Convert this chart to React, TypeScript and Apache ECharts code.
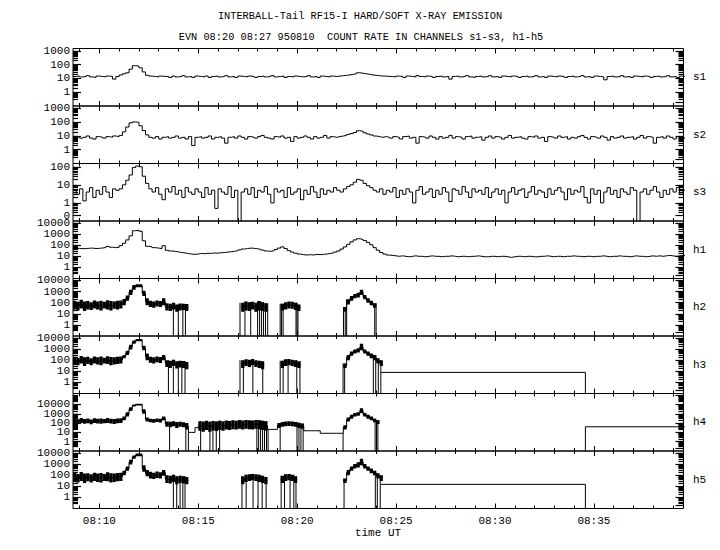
import React, { useEffect, useRef } from "react";
import * as echarts from "echarts";

// time axis in minutes after 08:00, 10-second bins starting 08:08:40
const T0 = 8 + 40 / 60;
const DT = 1 / 6;
const X_MAX = 39.53;

const majorMinutes = [10, 15, 20, 25, 30, 35];
const minorMinutes = [9, 11, 12, 13, 14, 16, 17, 18, 19, 21, 22, 23, 24, 26, 27, 28, 29, 31, 32, 33, 34, 36, 37, 38, 39];

const channelNames = ["s1", "s2", "s3", "h1", "h2", "h3", "h4", "h5"];
const channelTopDecade = [3, 3, 2, 4, 4, 4, 5, 4];

const titleLine1 = "INTERBALL-Tail RF15-I HARD/SOFT X-RAY EMISSION";
const titleLine2 = "EVN 08:20 08:27 950810  COUNT RATE IN CHANNELS s1-s3, h1-h5";
const xName = "time UT";

// count rates, one value per 10 s bin
const s1 = [
  14, 15, 13, 14, 16, 13, 12, 15, 14, 13, 15, 14, 9, 14,
  18, 22, 26, 48, 85, 80, 60, 30, 17,
  15, 14, 13, 15, 14, 14, 12, 15, 13, 14, 16, 13, 14, 12, 15,
  14, 13, 15, 12, 14, 15, 13, 14, 16, 13, 14, 12, 15, 14, 13, 15, 14, 12, 14, 15, 13, 14, 16, 13, 14, 15, 12, 14, 13, 15, 14, 13, 14, 16, 13, 14, 12, 15, 14, 13, 15, 14,
  15, 16, 17, 18, 20, 22, 26, 24, 22, 20, 18, 17, 16, 15, 15, 14,
  14, 13, 15, 14, 12, 15, 14, 13, 16, 14,
  13, 15, 14, 12, 14, 15, 13, 14, 9, 14,
  15, 13, 14, 16, 13, 12, 14, 15, 13, 14,
  16, 13, 14, 12, 15, 14, 13, 15, 14, 12,
  14, 15, 13, 14, 16, 13, 14, 12, 15, 14,
  13, 15, 14, 12, 14, 15, 13, 14, 16, 13,
  14, 12, 15, 14, 13, 8, 14, 15, 13, 14,
  16, 13, 14, 12, 15, 14, 13, 15, 14, 12,
  14, 15, 13, 14, 16, 13, 14, 12, 15, 14,
];

const s2 = [
  8, 9, 7, 8, 10, 7, 6, 9, 8, 7, 9, 8, 10, 9,
  11, 20, 45, 90, 105, 100, 55, 25, 12,
  8, 7, 9, 6, 8, 9, 7, 8, 10, 7, 8, 6, 9, 2, 8,
  9, 7, 8, 10, 6, 8, 9, 7, 3, 8, 9, 7, 10, 8, 6, 9, 8, 7, 9, 11, 8, 7, 6, 9, 8, 10, 7, 8, 4, 9, 7, 8, 10, 8, 6, 9, 7, 8, 11, 7, 9, 8,
  9, 10, 11, 13, 15, 18, 24, 22, 17, 14, 12, 10, 9, 8, 9, 8,
  7, 9, 8, 6, 9, 10, 7, 8, 3, 9,
  8, 7, 10, 8, 6, 9, 7, 8, 11, 7,
  9, 8, 6, 9, 10, 7, 8, 9, 5, 8,
  10, 7, 9, 8, 6, 8, 11, 7, 8, 9,
  7, 6, 9, 8, 10, 7, 8, 4, 9, 8,
  7, 10, 8, 9, 6, 8, 7, 9, 11, 8,
  6, 9, 8, 7, 10, 8, 5, 9, 7, 8,
  10, 7, 8, 9, 6, 8, 11, 7, 9, 8,
  3, 8, 9, 7, 10, 8, 6, 9, 8, 7,
];

const s3 = [
  5, 3, 6, 1.3, 4, 7, 2, 5, 3, 8, 4, 2, 6, 5,
  6, 10, 18, 35, 90, 110, 100, 30, 12, 6,
  4, 7, 3, 1.5, 6, 4, 8, 3, 5, 2, 7, 4, 3, 6,
  4, 2, 7, 3, 5, 0.5, 6, 4, 3, 8, 2, 5, 0, 4, 6, 3, 7, 2, 5, 4, 8, 3, 1, 6, 4, 5, 2, 7, 3, 4, 6, 1.5, 5, 3, 8, 4, 2, 6, 3, 5, 4, 7,
  5, 4, 6, 8, 10, 14, 20, 18, 12, 9, 7, 5, 4, 6, 3, 5,
  4, 7, 2, 5, 3, 6, 4, 1, 5, 8,
  3, 4, 6, 2, 5, 3, 7, 4, 1.2, 6,
  5, 3, 8, 4, 2, 6, 4, 5, 3, 7,
  2, 4, 6, 3, 5, 1, 4, 7, 3, 5,
  6, 2, 4, 8, 3, 5, 4, 2, 6, 3,
  5, 7, 4, 1.5, 6, 3, 5, 4, 8, 2,
  1, 6, 3, 5, 1, 4, 7, 3, 5, 2,
  6, 4, 3, 7, 5, 0, 4, 6, 3, 5,
  8, 4, 2, 5, 3, 6, 4, 7, 3, 5,
];

const h1 = [
  50, 52, 48, 50, 53, 55, 50, 52, 56,
  62, 78, 66, 60, 65,
  90, 150, 300, 700, 2000, 2200, 1800, 250, 80,
  70, 60, 55, 50,
  90,
  35, 30, 28, 25, 22, 20, 18, 16, 15, 16,
  18, 17, 19, 18, 20, 19, 21, 22, 24, 26, 28, 32,
  38, 45, 50, 55, 52, 48, 42, 36, 30,
  28, 32, 40,
  55, 70, 50,
  32, 24, 19, 16,
  14, 13, 14, 13, 15, 14, 15, 16, 18, 20, 24,
  30, 45, 70, 120, 200, 300,
  380, 330, 260,
  180, 110, 60, 35, 22,
  16, 13, 12, 11,
  10, 11, 10, 9, 10, 11, 10, 10, 9, 10,
  11, 10, 10, 9, 10, 10, 11, 10, 9, 10,
  10, 9, 10, 10, 11, 10, 9, 9, 10, 10,
  9, 10, 10, 9, 8, 9, 10, 10, 9, 10,
  10, 9, 9, 10, 10, 11, 10, 9, 10, 10,
  9, 10, 10, 11, 10, 10, 9, 10, 10, 9,
  10, 10, 11, 10, 9, 10, 10, 11, 10, 10,
  9, 10, 11, 10, 10, 9, 10, 11, 10, 11,
  10, 11, 12, 11, 10, 11, 12, 11,
];

const N = null;

// hard channels: lower and upper envelope of the rapidly fluctuating rate per 10 s bin
const h2Hi = [
  150, 120, 180, 130, 140, 110, 160, 130, 150, 120, 170, 140, 130, 150, 160,
  220, 450, 1500, 4000, 4500, 4500, 1200, 250,
  150, 130, 160, 140, 250,
  90, 80, 100, 70, 85, 80, 75,
  N, N, N, N, N, N, N, N, N, N, N, N, N, N, N, N,
  100, 130, 110, 120, 100, 140, 110, 90,
  N, N, N, N,
  80, 110, 130, 120, 100, 70,
  N, N, N, N, N, N, N, N, N, N, N, N, N,
  40, 200, 400, 600, 800, 1500, 500, 250, 150, 90,
  N,
];
const h2Lo = [
  25, 20, 30, 18, 25, 22, 30, 25, 20, 30, 25, 20, 28, 25, 30,
  60, 150, 500, 1500, 2500, 2500, 400, 60,
  40, 35, 45, 40, 60,
  20, 18, 25, 15, 20, 22, 18,
  N, N, N, N, N, N, N, N, N, N, N, N, N, N, N, N,
  15, 20, 18, 25, 15, 20, 18, 15,
  N, N, N, N,
  20, 25, 30, 28, 22, 18,
  N, N, N, N, N, N, N, N, N, N, N, N, N,
  15, 70, 150, 250, 300, 500, 200, 100, 60, 35,
  N,
];
const h2Drops = [13.74, 13.99, 14.22, 14.35, 17.11, 17.36, 17.65, 18.0, 18.1, 18.2, 18.3, 18.4, 18.51, 19.14, 19.21, 19.29, 19.94, 19.99, 20.04, 22.34, 22.43, 22.5, 23.92, 23.99];

const h3Hi = [
  200, 160, 240, 180, 200, 150, 220, 180, 210, 170, 230, 190, 180, 200, 220,
  300, 700, 2500, 6000, 8000, 8000, 2000, 400,
  200, 180, 220, 190, 300,
  100, 90, 110, 80, 90, 85, 70,
  N, N, N, N, N, N, N, N, N, N, N, N, N, N, N, N,
  100, 120, 110, 130, 100, 90, 80,
  N, N, N, N, N,
  90, 120, 130, 110, 100, 80,
  N, N, N, N, N, N, N, N, N, N, N, N, N,
  50, 300, 600, 900, 1200, 3000, 900, 600, 400, 300, 150, 100,
];
const h3Lo = [
  40, 35, 50, 30, 45, 35, 50, 40, 35, 50, 45, 35, 40, 45, 50,
  150, 300, 900, 3000, 5000, 5000, 800, 100,
  60, 50, 65, 55, 100,
  25, 20, 30, 18, 22, 20, 15,
  N, N, N, N, N, N, N, N, N, N, N, N, N, N, N, N,
  20, 30, 25, 35, 25, 20, 15,
  N, N, N, N, N,
  20, 30, 35, 30, 25, 20,
  N, N, N, N, N, N, N, N, N, N, N, N, N,
  20, 100, 250, 400, 500, 800, 400, 250, 150, 100, 50, 30,
];
const h3Drops = [13.49, 13.74, 13.99, 14.17, 14.33, 17.11, 17.28, 17.76, 18.26, 19.14, 19.29, 19.54, 19.98, 20.14, 22.32, 22.4, 23.85, 23.97, 24.1, 24.23];
const h3Tail = [[24.23, 8], [34.57, 8], [34.57, 0]];

const h4Hi = [
  300, 260, 350, 280, 320, 250, 340, 290, 310, 270, 360, 300, 280, 320, 340,
  500, 1500, 5000, 10000, 12000, 12000, 3000, 400,
  300, 280, 320, 290, 500,
  150, 140, 160, 130, 140, 120,
  100,
  10, 10,
  32,
  160, 150, 180, 140, 170, 150, 180, 160, 190, 170, 200, 180, 210, 190, 220, 200, 190, 220, 200,
  180, 160,
  21, 21, 21,
  100, 130, 150, 160, 150, 130, 110, 90,
  15, 15, 15, 15, 15,
  8, 8, 8, 8, 8, 8, 8,
  60, 400, 800, 1200, 1500, 4000, 1200, 800, 500, 300, 200,
];
const h4Lo = [
  90, 80, 100, 85, 95, 75, 100, 90, 85, 95, 100, 90, 80, 95, 100,
  200, 500, 2000, 6000, 8000, 8000, 1000, 150,
  120, 110, 130, 115, 200,
  40, 35, 45, 30, 40, 35,
  20,
  10, 10,
  32,
  15, 12, 18, 12, 16, 14, 18, 15, 20, 18, 22, 20, 24, 20, 25, 22, 20, 25, 22,
  18, 15,
  21, 21, 21,
  30, 40, 45, 50, 45, 40, 30, 25,
  15, 15, 15, 15, 15,
  8, 8, 8, 8, 8, 8, 8,
  20, 150, 300, 500, 600, 1200, 500, 300, 200, 120, 80,
];
const h4Drops = [13.55, 14.37, 14.5, 15.12, 15.59, 15.74, 15.91, 16.08, 17.96, 18.05, 18.15, 18.25, 18.35, 18.45, 18.53, 19.14, 19.99, 20.09, 20.19, 20.3, 22.32, 23.94, 24.01, 24.08];
const h4Tail = [[34.57, 0], [34.57, 40], [39.6, 40]];

const h5Hi = [
  160, 130, 190, 140, 150, 120, 170, 140, 160, 130, 180, 150, 140, 160, 170,
  250, 600, 2500, 6000, 9000, 9000, 800, 300,
  200, 170, 210, 180, 300,
  100, 90, 110, 80, 90, 80, 70,
  N, N, N, N, N, N, N, N, N, N, N, N, N, N, N, N,
  80, 110, 120, 130, 120, 110, 90, 70,
  N, N, N, N,
  90, 120, 130, 110, 80,
  N, N, N, N, N, N, N, N, N, N, N, N, N, N,
  50, 300, 600, 1000, 1500, 3000, 1000, 600, 400, 250, 150, 100,
];
const h5Lo = [
  25, 22, 30, 20, 28, 22, 30, 25, 22, 30, 28, 22, 25, 28, 30,
  100, 250, 900, 3000, 5000, 5000, 200, 80,
  50, 45, 55, 50, 90,
  20, 18, 25, 15, 20, 18, 15,
  N, N, N, N, N, N, N, N, N, N, N, N, N, N, N, N,
  15, 25, 30, 35, 30, 25, 20, 15,
  N, N, N, N,
  20, 30, 35, 30, 20,
  N, N, N, N, N, N, N, N, N, N, N, N, N, N,
  20, 100, 250, 400, 500, 800, 400, 250, 150, 100, 50, 30,
];
const h5Drops = [13.74, 13.91, 14.08, 14.22, 14.33, 17.21, 17.42, 17.77, 18.02, 18.23, 18.43, 19.19, 19.36, 19.64, 19.83, 19.94, 22.37, 23.95, 24.05, 24.2];
const h5Tail = [[24.23, 15], [34.57, 15], [34.57, 0]];

const lineChannels: Record<number, number[]> = { 0: s1, 1: s2, 2: s3, 3: h1 };
const bandChannels: Record<number, { lo: (number | null)[]; hi: (number | null)[]; drops: number[]; tail?: number[][] }> = {
  4: { lo: h2Lo, hi: h2Hi, drops: h2Drops },
  5: { lo: h3Lo, hi: h3Hi, drops: h3Drops, tail: h3Tail },
  6: { lo: h4Lo, hi: h4Hi, drops: h4Drops, tail: h4Tail },
  7: { lo: h5Lo, hi: h5Hi, drops: h5Drops, tail: h5Tail },
};

const Y_MIN = -1;
const ZERO_LABEL = Math.log10(0.2);
const lg = (v: number) => (v > 0 ? Math.log10(v) : -2);

const FONT = '"Liberation Mono", "DejaVu Sans Mono", monospace';
const PANEL_TOP = 48.5;
const PANEL_H = 57.5;
const LEFT = 73;
const RIGHT = 36.5;

function buildOption() {
  const grids: any[] = [];
  const xAxes: any[] = [];
  const yAxes: any[] = [];
  const series: any[] = [];
  const graphics: any[] = [];

  channelNames.forEach((name, i) => {
    const top = PANEL_TOP + i * PANEL_H;
    grids.push({
      left: LEFT, right: RIGHT, top, height: PANEL_H,
      show: true, borderColor: "#000", borderWidth: 1, backgroundColor: "transparent",
    });
    const topDec = channelTopDecade[i];
    const yMax = topDec + 0.18;
    const major = [ZERO_LABEL];
    for (let d = 0; d <= topDec; d++) major.push(d);
    const minor: number[] = [];
    for (let d = -1; d <= topDec; d++) {
      for (let k = 2; k <= 9; k++) {
        const v = d + Math.log10(k);
        if (d === -1 && k === 2) continue;
        if (v < yMax) minor.push(v);
      }
    }
    const isLast = i === channelNames.length - 1;
    const xBase = {
      type: "value", gridIndex: i, min: T0, max: X_MAX,
      axisLine: { show: false, onZero: false }, splitLine: { show: false },
    };
    xAxes.push({
      ...xBase, position: "bottom",
      axisTick: { show: true, inside: true, length: 5, customValues: majorMinutes, lineStyle: { color: "#000", width: 1 } },
      axisLabel: {
        show: isLast, customValues: majorMinutes, margin: 7, color: "#000",
        fontFamily: FONT, fontSize: 11,
        formatter: (v: number) => "08:" + String(Math.round(v)).padStart(2, "0"),
      },
    });
    xAxes.push({
      ...xBase, position: "bottom",
      axisTick: { show: true, inside: true, length: 3, customValues: minorMinutes, lineStyle: { color: "#000", width: 1 } },
      axisLabel: { show: false },
    });
    xAxes.push({
      ...xBase, position: "top",
      axisTick: { show: true, inside: true, length: 5, customValues: majorMinutes, lineStyle: { color: "#000", width: 1 } },
      axisLabel: { show: false },
    });
    xAxes.push({
      ...xBase, position: "top",
      axisTick: { show: true, inside: true, length: 3, customValues: minorMinutes, lineStyle: { color: "#000", width: 1 } },
      axisLabel: { show: false },
    });

    const yBase = {
      type: "value", gridIndex: i, min: Y_MIN, max: yMax,
      axisLine: { show: false, onZero: false }, splitLine: { show: false },
    };
    yAxes.push({
      ...yBase, position: "left",
      axisTick: { show: true, inside: true, length: 8, customValues: major, lineStyle: { color: "#000", width: 1.2 } },
      axisLabel: {
        show: true, customValues: major, margin: 3, color: "#000",
        fontFamily: FONT, fontSize: 11,
        formatter: (v: number) => (v < -0.5 ? "0" : String(Math.round(Math.pow(10, v)))),
      },
    });
    yAxes.push({
      ...yBase, position: "left",
      axisTick: { show: true, inside: true, length: 5, customValues: minor, lineStyle: { color: "#000", width: 1.2 } },
      axisLabel: { show: false },
    });
    yAxes.push({
      ...yBase, position: "right",
      axisTick: { show: true, inside: true, length: 8, customValues: major, lineStyle: { color: "#000", width: 1.2 } },
      axisLabel: { show: false },
    });
    yAxes.push({
      ...yBase, position: "right",
      axisTick: { show: true, inside: true, length: 5, customValues: minor, lineStyle: { color: "#000", width: 1.2 } },
      axisLabel: { show: false },
    });

    const axisRef = { xAxisIndex: i * 4, yAxisIndex: i * 4 };

    if (lineChannels[i]) {
      const vals = lineChannels[i];
      const data = vals.map((v, k) => [T0 + k * DT, lg(v)]);
      data.push([T0 + vals.length * DT, lg(vals[vals.length - 1])]);
      series.push({
        type: "line", ...axisRef, data, step: "end", showSymbol: false, symbol: "none",
        clip: true, lineStyle: { color: "#000", width: 1 }, silent: true,
      });
    } else {
      const b = bandChannels[i];
      const rects: number[][] = [];
      const mids: any[] = [];
      b.lo.forEach((lo, k) => {
        const hi = b.hi[k];
        const t = T0 + k * DT;
        if (lo == null || hi == null) {
          mids.push([t, null]);
          return;
        }
        mids.push([t, (lg(lo) + lg(hi)) / 2]);
        if (hi > lo) rects.push([t, lg(lo), lg(hi)]);
      });
      series.push({
        type: "line", ...axisRef, data: mids, step: "end", showSymbol: false, symbol: "none",
        connectNulls: false, clip: true, lineStyle: { color: "#000", width: 1 }, silent: true,
      });
      series.push({
        type: "custom", ...axisRef, data: rects, clip: true, silent: true,
        renderItem: (params: any, api: any) => {
          const t = api.value(0);
          const p1 = api.coord([t, api.value(2)]);
          const p2 = api.coord([t + DT, api.value(1)]);
          return {
            type: "rect",
            shape: { x: p1[0], y: p1[1], width: p2[0] - p1[0], height: Math.max(1, p2[1] - p1[1]) },
            style: { fill: "#000" },
          };
        },
      });
      const hiAt = (m: number) => {
        const k = Math.floor((m - T0) / DT);
        for (const o of [0, -1, 1, -2, 2]) {
          const h = b.hi[k + o];
          if (h != null) return h;
        }
        return 10;
      };
      const dropData = b.drops.map((m) => [m, lg(hiAt(m))]);
      series.push({
        type: "custom", ...axisRef, data: dropData, clip: true, silent: true,
        renderItem: (params: any, api: any) => {
          const m = api.value(0);
          const p1 = api.coord([m, api.value(1)]);
          const p2 = api.coord([m, Y_MIN]);
          return {
            type: "line",
            shape: { x1: p1[0], y1: p1[1], x2: p2[0], y2: p2[1] },
            style: { stroke: "#000", lineWidth: 1 },
          };
        },
      });
      if (b.tail) {
        series.push({
          type: "line", ...axisRef, data: b.tail.map(([m, v]) => [m, lg(v)]),
          showSymbol: false, symbol: "none", clip: true,
          lineStyle: { color: "#000", width: 1 }, silent: true,
        });
      }
    }

    graphics.push({
      type: "text", x: 693, y: top + PANEL_H / 2,
      style: { text: name, fill: "#000", fontFamily: FONT, fontSize: 11, align: "left", verticalAlign: "middle" },
    });
  });

  graphics.push({
    type: "text", x: 360, y: 16,
    style: { text: titleLine1, fill: "#000", fontFamily: FONT, fontSize: 10.3, align: "center", verticalAlign: "middle" },
  });
  graphics.push({
    type: "text", x: 361, y: 37,
    style: { text: titleLine2, fill: "#000", fontFamily: FONT, fontSize: 10.3, align: "center", verticalAlign: "middle" },
  });
  graphics.push({
    type: "text", x: 378, y: 533,
    style: { text: xName, fill: "#000", fontFamily: FONT, fontSize: 11, align: "center", verticalAlign: "middle" },
  });

  return {
    animation: false,
    backgroundColor: "#fff",
    grid: grids,
    xAxis: xAxes,
    yAxis: yAxes,
    series,
    graphic: graphics,
  };
}

export default function App() {
  const ref = useRef<HTMLDivElement>(null);
  useEffect(() => {
    if (!ref.current) return;
    const chart = echarts.init(ref.current, undefined, { renderer: "svg" });
    chart.setOption(buildOption() as any);
    return () => chart.dispose();
  }, []);
  return (
    <div
      ref={ref}
      style={{ position: "absolute", left: 0, top: 0, width: 720, height: 550, background: "#fff" }}
    />
  );
}
